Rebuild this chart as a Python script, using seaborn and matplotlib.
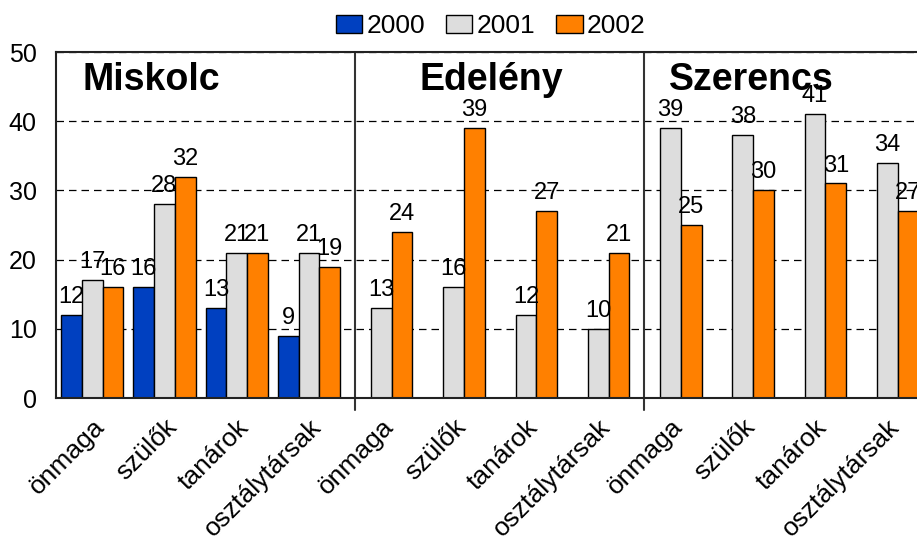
import pandas as pd
import matplotlib.pyplot as plt
import matplotlib.patches as mpatches
import seaborn as sns

sns.set_style("white")
plt.rcParams['font.family'] = ['Liberation Sans', 'DejaVu Sans']
plt.rcParams['text.color'] = 'black'
plt.rcParams['xtick.color'] = 'black'
plt.rcParams['ytick.color'] = 'black'

# Dados
grupos = ["Miskolc", "Edelény", "Szerencs"]
alvos = ["önmaga", "szülők", "tanárok", "osztálytársak"]
anos = ["2000", "2001", "2002"]
valores2000 = [12, 16, 13, 9, None, None, None, None, None, None, None, None]
valores2001 = [17, 28, 21, 21, 13, 16, 12, 10, 39, 38, 41, 34]
valores2002 = [16, 32, 21, 19, 24, 39, 27, 21, 25, 30, 31, 27]
cores = {"2000": "#0040C0", "2001": "#DDDDDD", "2002": "#FF8000"}


def montarTabela():
    """Monta a tabela longa para o seaborn"""
    chaves = [f"{g}|{a}" for g in grupos for a in alvos]
    linhas = []
    for ano, serie in zip(anos, [valores2000, valores2001, valores2002]):
        for chave, v in zip(chaves, serie):
            if v is not None:
                linhas.append({"chave": chave, "ano": ano, "valor": v})
    return pd.DataFrame(linhas), chaves


def criarGrafico():
    dados, chaves = montarTabela()

    fig = plt.figure(figsize=(9.17, 5.4), dpi=100)
    ax = fig.add_axes([56 / 917, 142 / 540, 861 / 917, 346 / 540])

    sns.barplot(data=dados, x="chave", y="valor", hue="ano", order=chaves,
                hue_order=anos, palette=cores, saturation=1, width=0.86,
                edgecolor="black", linewidth=1, errorbar=None, legend=False,
                ax=ax)

    for cont in ax.containers:
        ax.bar_label(cont, fmt="%.0f", padding=5, fontsize=17, color="black")

    ax.set_ylim(0, 50)
    ax.set_xlim(-0.5, 11.41)
    ax.set_yticks(range(0, 51, 10))
    ax.set_xticks(range(len(chaves)))
    ax.set_xticklabels(alvos * len(grupos), rotation=45, ha="right",
                       rotation_mode="anchor", fontsize=19)
    ax.tick_params(axis="y", length=0, pad=14, labelsize=18)
    ax.tick_params(axis="x", length=0, pad=12)
    ax.set_xlabel("")
    ax.set_ylabel("")

    ax.yaxis.grid(True, linestyle=(0, (6, 4)), color="black", linewidth=0.9)
    ax.set_axisbelow(True)
    for lado in ["left", "bottom", "top"]:
        ax.spines[lado].set_color("#222222")
        ax.spines[lado].set_linewidth(1.5)
    ax.spines["right"].set_visible(False)

    # linhas separadoras dos grupos
    trans = ax.get_xaxis_transform()
    for xs in [3.64, 7.63]:
        ax.plot([xs, xs], [1, -0.035], transform=trans, color="#333333",
                linewidth=1.5, clip_on=False)

    # títulos das cidades
    for xt, nome in zip([-0.14, 4.53, 7.98], grupos):
        ax.text(xt, 0.89, nome, transform=trans, fontsize=27,
                fontweight="bold", va="baseline", ha="left", color="black")

    handles = [mpatches.Patch(facecolor=cores[a], edgecolor="black", label=a)
               for a in anos]
    fig.legend(handles=handles, loc="upper center", ncol=3, frameon=False,
               bbox_to_anchor=(0.535, 1.018), fontsize=19, handlelength=1.0,
               handleheight=0.7, handletextpad=0.15, columnspacing=0.8)

    fig.savefig("out.png", dpi=100)


if __name__ == "__main__":
    criarGrafico()
